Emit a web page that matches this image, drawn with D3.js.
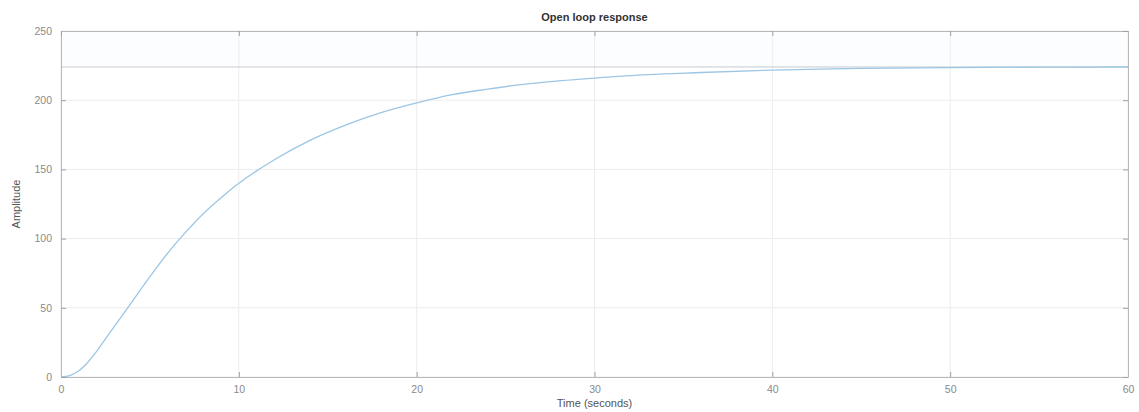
<!DOCTYPE html>
<html>
<head>
<meta charset="utf-8">
<script src="https://d3js.org/d3.v7.min.js"></script>
<style>
  body { margin: 0; background: #fff; }
  text { font-family: "Liberation Sans", Arial, sans-serif; }
</style>
</head>
<body>
<div id="chart"></div>
<script>
  // step response
  var time = [0, 0.5, 1, 1.5, 2, 2.5, 3, 3.5, 4, 5, 6, 7, 8, 9, 10, 12, 14, 16, 18, 20, 22, 24, 26, 28, 30, 33, 36, 40, 45, 50, 55, 60];
  var amplitude = [0, 1, 4.5, 10.5, 18.5, 27.5, 36.5, 45.5, 54.5, 72.5, 89.5, 104.5, 118, 129.5, 140, 157, 171, 182, 191, 198, 204, 208, 211.5, 214, 216, 218.5, 220, 221.8, 223, 223.6, 223.9, 224];
  var finalValue = 224;
  var xTicks = [0, 10, 20, 30, 40, 50, 60];
  var yTicks = [0, 50, 100, 150, 200, 250];

  var W = 1139, H = 412;
  var margin = {top: 31, right: 11, bottom: 35, left: 61},
      width = W - margin.left - margin.right,
      height = H - margin.top - margin.bottom;

  var svg = d3.select("#chart").append("svg")
      .attr("width", W).attr("height", H);
  var g = svg.append("g")
      .attr("transform", "translate(" + margin.left + "," + margin.top + ")");

  var x = d3.scaleLinear().domain([0, 60]).range([0, width]);
  var y = d3.scaleLinear().domain([0, 250]).range([height, 0]);

  // faint band above steady state
  g.append("rect")
      .attr("x", 0).attr("y", 0)
      .attr("width", width).attr("height", y(finalValue))
      .attr("fill", "#fbfdff");

  // grid
  g.selectAll(".gx").data(xTicks).enter().append("line")
      .attr("x1", d => x(d)).attr("x2", d => x(d))
      .attr("y1", 0).attr("y2", height)
      .attr("stroke", "#ececec").attr("stroke-width", 1);
  g.selectAll(".gy").data(yTicks).enter().append("line")
      .attr("x1", 0).attr("x2", width)
      .attr("y1", d => y(d)).attr("y2", d => y(d))
      .attr("stroke", "#ececec").attr("stroke-width", 1);

  // steady-state line
  g.append("line")
      .attr("x1", 0).attr("x2", width)
      .attr("y1", y(finalValue)).attr("y2", y(finalValue))
      .attr("stroke", "#c8cbce").attr("stroke-width", 1);

  // response curve
  var pts = time.map((t, i) => [t, amplitude[i]]);
  g.append("path")
      .datum(pts)
      .attr("fill", "none")
      .attr("stroke", "#9cc6e4")
      .attr("stroke-width", 1.3)
      .attr("d", d3.line().curve(d3.curveCatmullRom)
        .x(d => x(d[0])).y(d => y(d[1])));

  // axes (ticks inward like matlab)
  var axisColor = "#b8b8b8";
  var xb = g.append("g").attr("transform", "translate(0," + height + ")")
      .call(d3.axisBottom(x).tickValues(xTicks).tickSizeInner(-5).tickSizeOuter(0).tickPadding(9));
  var yl = g.append("g")
      .call(d3.axisLeft(y).tickValues(yTicks).tickSizeInner(-5).tickSizeOuter(0).tickPadding(9));
  var xt = g.append("g")
      .call(d3.axisTop(x).tickValues(xTicks).tickSizeInner(-5).tickSizeOuter(0).tickFormat(""));
  var yr = g.append("g").attr("transform", "translate(" + width + ",0)")
      .call(d3.axisRight(y).tickValues(yTicks).tickSizeInner(-5).tickSizeOuter(0).tickFormat(""));

  [xb, yl, xt, yr].forEach(function(a) {
    a.select(".domain").attr("stroke", axisColor);
    a.selectAll(".tick line").attr("stroke", "#a0a0a0");
    a.selectAll(".tick text").attr("fill", "#8a8a8a")
      .style("font-size", "10.5px")
      .style("font-family", "Liberation Sans, Arial, sans-serif");
  });

  // title
  svg.append("text")
      .attr("x", margin.left + width / 2).attr("y", 21)
      .attr("text-anchor", "middle")
      .attr("fill", "#333")
      .style("font-size", "11px").style("font-weight", "bold")
      .text("Open loop response");

  svg.append("text")
      .attr("x", margin.left + width / 2).attr("y", 407)
      .attr("text-anchor", "middle")
      .attr("fill", "#555")
      .style("font-size", "11px")
      .text("Time (seconds)");

  svg.append("text")
      .attr("transform", "translate(20," + (margin.top + height / 2) + ") rotate(-90)")
      .attr("text-anchor", "middle")
      .attr("fill", "#555")
      .style("font-size", "11px")
      .text("Amplitude");
</script>
</body>
</html>
